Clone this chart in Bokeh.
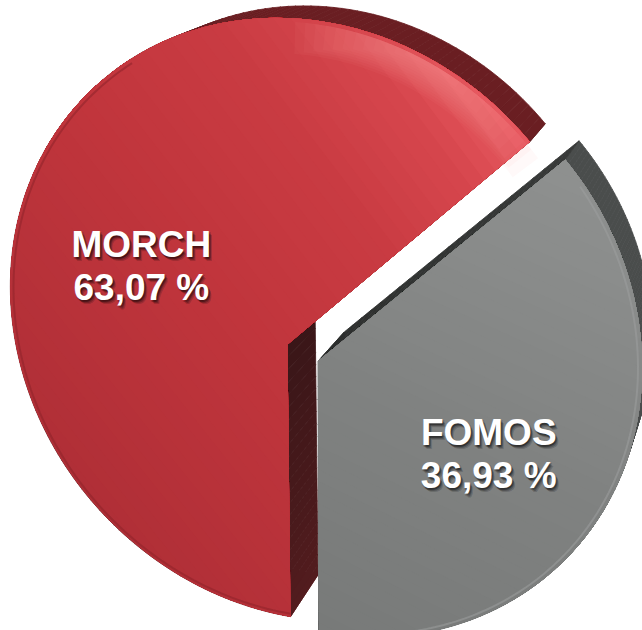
import numpy as np
from bokeh.plotting import figure
from bokeh.models import Range1d, ColumnDataSource
from bokeh.core.properties import value
from bokeh.embed import file_html
from bokeh.resources import INLINE

# ---------------- data ----------------
names = ["MORCH", "FOMOS"]
shares = [63.07, 36.93]
share_labels = ["63,07 %", "36,93 %"]
explode = [0.0, 0.112]          # fraction of radius each slice is pulled out

# ---------------- perspective camera (unit pie disc -> page) ----------------
VTX = np.array([287.0, 344.0])
M = np.array([[295.859, -3.299], [31.399, -296.908]])
q = np.array([-0.07277, -0.09088])
VX, VY, K = 840.0, -221.0, 0.05     # vanishing point of the slab depth and depth fraction

def P(u, v):
    u = np.asarray(u, float); v = np.asarray(v, float)
    w = 1 + q[0] * u + q[1] * v
    return VTX[0] + (M[0, 0] * u + M[0, 1] * v) / w, VTX[1] + (M[1, 0] * u + M[1, 1] * v) / w

def back(x, y):
    return x + K * (VX - x), y + K * (VY - y)

def hex2rgb(h):
    h = h.lstrip("#"); return np.array([int(h[i:i + 2], 16) for i in (0, 2, 4)], float)

def ramp(stops, t):
    t = min(max(t, 0.0), 1.0)
    for (t0, c0), (t1, c1) in zip(stops[:-1], stops[1:]):
        if t <= t1:
            s_ = 0 if t1 == t0 else (t - t0) / (t1 - t0)
            c = hex2rgb(c0) * (1 - s_) + hex2rgb(c1) * s_
            return "#%02x%02x%02x" % tuple(int(round(z)) for z in c)
    return stops[-1][1]

def clip(poly, n, t):
    out = []
    m = len(poly)
    for i in range(m):
        p0 = poly[i]; p1 = poly[(i + 1) % m]
        d0 = n @ p0 - t; d1 = n @ p1 - t
        if d0 >= 0: out.append(p0)
        if (d0 >= 0) != (d1 >= 0):
            s_ = d0 / (d0 - d1); out.append(p0 + s_ * (p1 - p0))
    return out

face_stops = [
    [(0, "#b02f37"), (0.45, "#c0353c"), (0.72, "#c93b42"), (0.88, "#d6464d"), (1.0, "#e95c63")],
    [(0, "#787a79"), (0.5, "#808281"), (1.0, "#8f9190")],
]
grad_dir = [np.radians(40), np.radians(70)]
arc_side = ["#6a1e22", "#4a4d4c"]
rad_side = [("#3a1618", "#521c1e"), ("#2c2e2d", "#383a39")]
rim_color = ["#8e232a", "#9d9f9e"]
rim_span = [(120.0, 270.0), (-70.0, 38.0)]

# slice angles from the data: start at 6 o'clock, clockwise
total = sum(shares)
start = 270.0
slices = []
for sh in shares:
    span = 360.0 * sh / total
    slices.append((start - span, start))
    start = start - span

p = figure(width=642, height=630, x_range=Range1d(0, 642), y_range=Range1d(630, 0),
           output_backend="svg", toolbar_location=None, min_border=0,
           x_axis_location=None, y_axis_location=None, background_fill_color="white",
           border_fill_color="white", outline_line_color=None)
p.xgrid.visible = False
p.ygrid.visible = False

# ---- slab sides ----
side_xs, side_ys, side_col = [], [], []
geo = []
for i, (a_lo, a_hi) in enumerate(slices):
    mid = np.radians((a_lo + a_hi) / 2)
    c = np.array([explode[i] * np.cos(mid), explode[i] * np.sin(mid)])
    th = np.radians(np.linspace(a_lo, a_hi, 160))
    arc = c[None, :] + np.stack([np.cos(th), np.sin(th)], axis=1)
    nr = 24
    r1 = [c + t * (arc[0] - c) for t in np.linspace(0, 1, nr)]
    r2 = [arc[-1] + t * (c - arc[-1]) for t in np.linspace(0, 1, nr)]
    geo.append((c, arc))
    segs = []
    for k in range(nr - 1):
        segs.append((r1[k], r1[k + 1], ramp([(0, rad_side[i][0]), (1, rad_side[i][1])], k / (nr - 2))))
    for k in range(len(arc) - 1):
        segs.append((arc[k], arc[k + 1], arc_side[i]))
    for k in range(nr - 1):
        segs.append((r2[k], r2[k + 1], ramp([(0, rad_side[i][1]), (1, rad_side[i][0])], k / (nr - 2))))
    for q0, q1, col in segs:
        fx, fy = P([q0[0], q1[0]], [q0[1], q1[1]])
        bx, by = back(fx, fy)
        side_xs.append([fx[0], fx[1], bx[1], bx[0]])
        side_ys.append([fy[0], fy[1], by[1], by[0]])
        side_col.append(col)

p.patches(xs="xs", ys="ys", fill_color="c", line_color="c", line_width=0.8,
          source=ColumnDataSource(dict(xs=side_xs, ys=side_ys, c=side_col)))

# ---- top faces with layered gradient ----
for i, (c, arc) in enumerate(geo):
    poly = [c] + [a for a in arc]
    n = np.array([np.cos(grad_dir[i]), np.sin(grad_dir[i])])
    tv = np.array([n @ z for z in poly])
    tmin, tmax = tv.min(), tv.max()
    xs, ys, cols = [], [], []
    for k, t in enumerate(np.linspace(tmin, tmax, 48)[:-1]):
        part = poly if k == 0 else clip(poly, n, t)
        if len(part) < 3:
            continue
        pa = np.array(part)
        x, y = P(pa[:, 0], pa[:, 1])
        xs.append(list(x)); ys.append(list(y))
        cols.append(ramp(face_stops[i], (t - tmin) / (tmax - tmin)))
    p.patches(xs="xs", ys="ys", fill_color="c", line_color=None,
              source=ColumnDataSource(dict(xs=xs, ys=ys, c=cols)))
    # rim along the outer edge
    r0, r1_ = rim_span[i]
    th = np.radians(np.linspace(r0, r1_, 120))
    rx, ry = P(c[0] + 0.988 * np.cos(th), c[1] + 0.988 * np.sin(th))
    p.line(list(rx), list(ry), line_color=rim_color[i], line_width=2, line_alpha=0.55)

# ---- soft glossy highlight near the top-right of the red arc ----
c, arc = geo[0]
hx, hy = [], []
for k in range(12):
    half = 24 - 1.8 * k
    th = np.radians(np.linspace(64 - half, 64 + half, 40))
    ro, ri = 0.99, 0.90 + 0.007 * k
    uu = np.concatenate([ro * np.cos(th), ri * np.cos(th[::-1])]) + c[0]
    vv = np.concatenate([ro * np.sin(th), ri * np.sin(th[::-1])]) + c[1]
    x, y = P(uu, vv)
    hx.append(list(x)); hy.append(list(y))
p.patches(hx, hy, fill_color="#ff9196", fill_alpha=0.06, line_color=None)

# ---- labels ----
label_r = [0.545, 0.61]
for i, (a_lo, a_hi) in enumerate(slices):
    c, arc = geo[i]
    mid = np.radians((a_lo + a_hi) / 2)
    lx, ly = P(c[0] + label_r[i] * np.cos(mid), c[1] + label_r[i] * np.sin(mid))
    src = ColumnDataSource(dict(x=[float(lx)], y=[float(ly)], n=[names[i]], v=[share_labels[i]]))
    for dx, dy, al in [(1, 2, 0.22), (2, 3, 0.22), (3, 4, 0.18), (0, 2, 0.15), (2, 1, 0.15)]:
        for col, off in (("n", -21), ("v", 22)):
            p.text(x="x", y="y", text=col, source=src, x_offset=dx, y_offset=off + dy,
                   text_color="black", text_alpha=al, text_align="center", text_baseline="middle",
                   text_font=value("Liberation Sans"), text_font_style="bold", text_font_size="37px")
    for col, off in (("n", -21), ("v", 22)):
        p.text(x="x", y="y", text=col, source=src, y_offset=off,
               text_color="white", text_align="center", text_baseline="middle",
               text_font=value("Liberation Sans"), text_font_style="bold", text_font_size="37px")

open("out.html", "w").write(file_html(p, INLINE))
